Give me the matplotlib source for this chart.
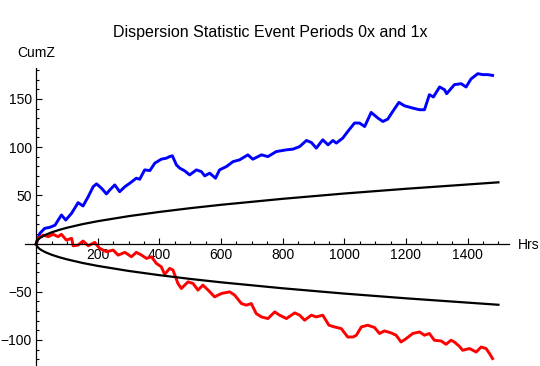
import matplotlib.pyplot as plt
from matplotlib.ticker import MultipleLocator, FixedLocator
import numpy as np

plt.rcParams['font.family'] = ['Liberation Sans', 'DejaVu Sans']

# blue walk (cumulative Z, period 0x)
blue_t = [0, 12, 28, 44, 61, 82, 96, 115, 136, 152, 169, 185, 196, 212, 228, 239, 255,
          271, 288, 304, 325, 336, 352, 369, 385, 406, 423, 433, 442, 455, 466, 482, 498,
          520, 536, 547, 563, 582, 595, 617, 639, 660, 687, 703, 731, 752, 779, 812, 833,
          855, 877, 893, 909, 930, 947, 963, 974, 995, 1011, 1033, 1049, 1066, 1087, 1109,
          1125, 1141, 1157, 1177, 1195, 1222, 1244, 1260, 1276, 1289, 1309, 1325, 1332,
          1357, 1379, 1395, 1411, 1433, 1449, 1465, 1481]
blue_v = [0, 10.6, 15.8, 16.8, 19, 29.6, 24.4, 31.4, 42.4, 39, 48.7, 59, 61.9, 57.4, 51.5,
          55.6, 60.8, 53.8, 59, 62.6, 67.8, 66.7, 76.4, 75.7, 83.4, 87.5, 88.6, 90.2, 91,
          81.6, 78.2, 75.4, 71.2, 76.4, 74.6, 70.2, 73, 67.8, 76.4, 79.8, 85, 86.8, 92, 87.5,
          92, 90.2, 95.4, 97.2, 97.9, 100.6, 106.9, 104.8, 99, 107.6, 102.4, 106.9, 104.2,
          109.4, 116.2, 125, 125, 121.4, 136, 130.1, 126.6, 129.1, 137, 146.4, 142.9, 140.5,
          138.8, 138.8, 154.4, 152, 162.4, 159.6, 155.4, 164.8, 165.8, 162.4, 170.7, 176.2,
          175.2, 175.2, 174.4]

# red walk (cumulative Z, period 1x)
red_t = [0, 6, 23, 39, 55, 71, 82, 98, 115, 120, 136, 152, 169, 190, 206, 228, 250, 266,
         288, 309, 325, 342, 358, 374, 390, 406, 417, 433, 444, 460, 471, 493, 509, 525,
         541, 558, 579, 601, 628, 644, 666, 682, 698, 714, 731, 752, 774, 790, 812, 839,
         855, 871, 893, 909, 930, 950, 968, 990, 1011, 1028, 1039, 1055, 1076, 1098, 1114,
         1130, 1152, 1168, 1184, 1201, 1222, 1244, 1260, 1276, 1292, 1314, 1330, 1346,
         1357, 1373, 1384, 1406, 1428, 1444, 1460, 1471, 1481]
red_v = [-0.8, 5.4, 8.8, 7.1, 9.6, 7.1, 9.6, 3.6, 5.4, -2.3, -1.6, 2.6, -2.3, 1.2, -5,
         -8.5, -6.8, -12, -9.1, -13.7, -9.1, -12, -15.4, -13.7, -20.6, -24.1, -32, -25.8,
         -27.5, -41.4, -46.6, -39.7, -41.4, -48.3, -43.1, -48.3, -55.3, -51.8, -50.1,
         -53.5, -62.2, -63.9, -62.2, -72.6, -76.1, -77.8, -70.9, -74.3, -77.8, -71.9,
         -74.3, -79.5, -74.3, -76.1, -74.3, -84.7, -86.5, -88.2, -96.9, -96.9, -95.1,
         -86.5, -84.7, -87.1, -93.3, -90.6, -92.7, -95.1, -102.1, -98.5, -93.3, -91.7,
         -95.1, -93.3, -100.3, -101, -104.5, -100.3, -102.1, -106.5, -110.7, -108.9,
         -112.5, -107.3, -108.9, -114.1, -119.3]

# envelope curves
env_t = [0, 2, 5, 10, 15, 30, 50, 75, 100, 150, 200, 300, 400, 500, 600, 800, 1000, 1200, 1500]
env_upper = [0, 2.3, 3.7, 5.2, 6.4, 9.0, 11.6, 14.2, 16.4, 20.1, 23.2, 28.4, 32.8, 36.7,
             40.2, 46.4, 51.9, 56.8, 63.5]
env_lower = [0, -2.3, -3.7, -5.2, -6.4, -9.0, -11.6, -14.2, -16.4, -20.1, -23.2, -28.4,
             -32.8, -36.7, -40.2, -46.4, -51.9, -56.8, -63.5]

fig = plt.figure(figsize=(5.4, 3.66), dpi=100)
ax = fig.add_axes([0.047, 0.0, 0.896, 0.814])

ax.plot(env_t, env_upper, color='black', lw=1.6, zorder=3)
ax.plot(env_t, env_lower, color='black', lw=1.6, zorder=3)
ax.plot(blue_t, blue_v, color=(0, 0, 1), lw=2.1, zorder=2)
ax.plot(red_t, red_v, color=(1, 0, 0), lw=2.1, zorder=2)

ax.set_xlim(-35, 1535)
ax.set_ylim(-127, 182)

ax.spines['left'].set_position(('data', 0))
ax.spines['bottom'].set_position(('data', 0))
ax.spines['top'].set_visible(False)
ax.spines['right'].set_visible(False)
for s in ('left', 'bottom'):
    ax.spines[s].set_linewidth(0.9)

ax.xaxis.set_major_locator(FixedLocator([200, 400, 600, 800, 1000, 1200, 1400]))
ax.xaxis.set_minor_locator(MultipleLocator(50))
ax.yaxis.set_major_locator(FixedLocator([-100, -50, 50, 100, 150]))
ax.yaxis.set_minor_locator(MultipleLocator(10))
ax.tick_params(which='both', direction='in', labelsize=10, width=0.8)
ax.tick_params(which='major', length=4)
ax.tick_params(which='minor', length=2)
ax.yaxis.set_major_formatter(plt.FuncFormatter(lambda v, p: f'{v:.0f}'.replace('-', '\u2212')))
ax.tick_params(axis='x', pad=3)
ax.tick_params(axis='y', pad=3)

fig.text(0.5, 0.91, 'Dispersion Statistic Event Periods 0x and 1x', ha='center', va='center',
         fontsize=11.5)
fig.text(0.067, 0.855, 'CumZ', ha='center', va='center', fontsize=10)
fig.text(0.959, 0.331, 'Hrs', ha='left', va='center', fontsize=10)

fig.savefig('out.png', dpi=100)
